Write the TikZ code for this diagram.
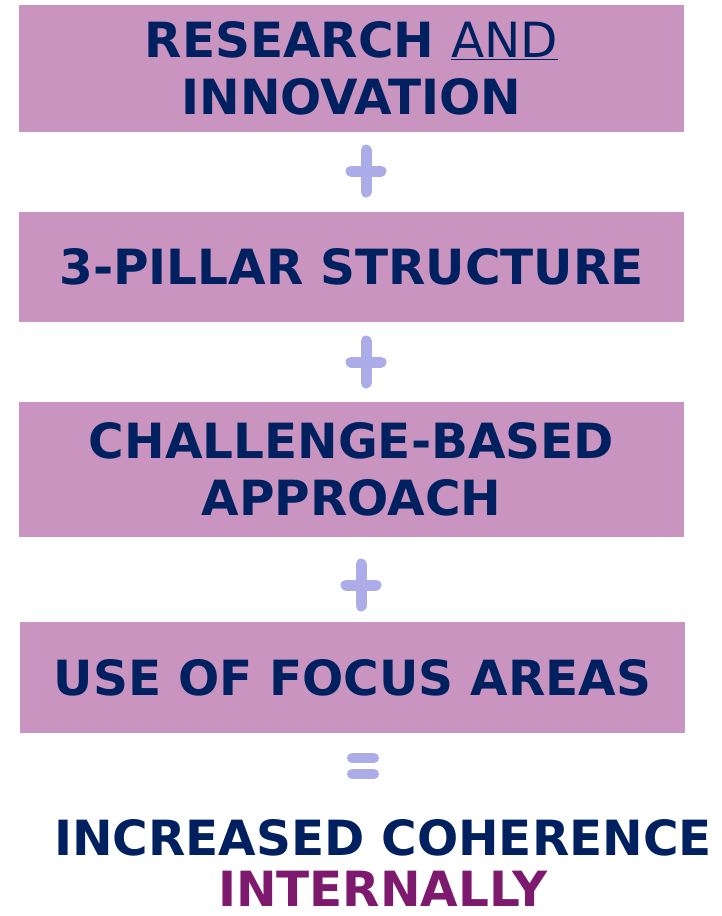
\documentclass[tikz,border=0pt]{standalone}
\usepackage{fontspec}
\setmainfont{DejaVu Sans}
\usepackage{tikz}
\definecolor{boxpink}{RGB}{201,148,191}
\definecolor{navy}{RGB}{0,32,96}
\definecolor{plum}{RGB}{126,26,110}
\definecolor{lavender}{RGB}{172,172,232}
\tikzset{
  pillar/.style={fill=boxpink, minimum width=665pt, inner sep=0pt, align=center,
    text=navy, font=\bfseries\fontsize{48.5}{57}\selectfont},
  sign/.style={draw=lavender, line width=11pt, line cap=round},
  result/.style={anchor=base, inner sep=0pt, font=\bfseries\fontsize{48.5}{57}\selectfont}
}

\begin{document}
\begin{tikzpicture}[x=1pt,y=-1pt]
    \useasboundingbox (0,0) rectangle (722,916);
    % the four boxes
    \node[pillar, minimum height=127pt] (ri) at (351.5,68.5)
      {RESEARCH {\mdseries\underline{AND}}\\INNOVATION};
    \node[pillar, minimum height=110pt] (tps) at (351.5,267) {3-PILLAR STRUCTURE};
    \node[pillar, minimum height=135pt] (cba) at (351.5,469.5)
      {CHALLENGE-BASED\\APPROACH};
    \node[pillar, minimum height=111pt] (ufa) at (352.5,677.5) {USE OF FOCUS AREAS};
    % plus and equals signs
    \coordinate (p1) at (366,171) ;
    \coordinate (p2) at (366,362) ;
    \coordinate (p3) at (361,585) ;
    \foreach \p in {p1,p2,p3} {
      \draw[sign] (\p) ++(-15,0) -- ++(30,0);
      \draw[sign] (\p) ++(0,-21) -- ++(0,42);
    }
    \coordinate (eq) at (363,766) ;
    \draw[sign, line width=10pt] (eq) ++(-11,-8) -- ++(22,0);
    \draw[sign, line width=10pt] (eq) ++(-11,8) -- ++(22,0);
    % result
    \node[result, text=navy] (ic) at (383,855) {INCREASED COHERENCE};
    \node[result, text=plum] (in) at (383,906) {INTERNALLY};
\end{tikzpicture}
\end{document}
